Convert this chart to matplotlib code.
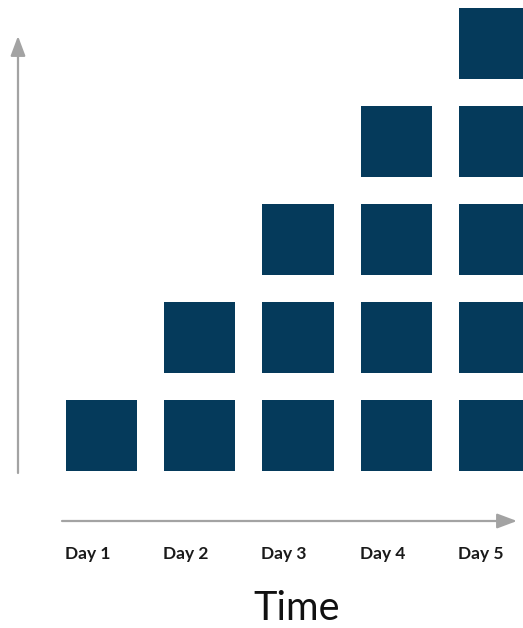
import matplotlib
matplotlib.use("Agg")
import matplotlib.pyplot as plt

days = ["Day 1", "Day 2", "Day 3", "Day 4", "Day 5"]
counts = [1, 2, 3, 4, 5]
axis_label = "Time"

W, H = 523, 628
fig = plt.figure(figsize=(W / 100, H / 100), dpi=100)
ax = fig.add_axes([0, 0, 1, 1])
ax.set_xlim(-0.033, 5.290)
ax.set_ylim(-1.464, 4.944)
ax.axis("off")

sq_color = "#053a5b"
size_x = 71 / 98.25
size_y = 71 / 98
for i, (d, c) in enumerate(zip(days, counts)):
    xc = i + 1
    ax.bar([xc] * c, [size_y] * c, width=size_x,
           bottom=[k + 0.5 - size_y / 2 for k in range(c)],
           color=sq_color, edgecolor="none")
    ax.text(xc - 0.14, 1 - 554 / H, d, transform=ax.get_xaxis_transform(),
            ha="center", va="center", fontsize=12.5, family="Lato",
            fontweight="bold", color="#1a1a1a")

ax.text(297 / W, 1 - 609 / H, axis_label, transform=fig.transFigure,
        ha="center", va="center", fontsize=28.5, family="Lato", color="#111111")

arrow_color = "#a3a3a3"
ax.annotate("", xy=(18 / W, 1 - 36 / H), xytext=(18 / W, 1 - 473 / H),
            xycoords="figure fraction", textcoords="figure fraction",
            arrowprops=dict(arrowstyle="-|>,head_length=1.2,head_width=0.45",
                            color=arrow_color, lw=1.6, shrinkA=0, shrinkB=0))
ax.annotate("", xy=(517 / W, 1 - 521 / H), xytext=(62 / W, 1 - 521 / H),
            xycoords="figure fraction", textcoords="figure fraction",
            arrowprops=dict(arrowstyle="-|>,head_length=1.2,head_width=0.45",
                            color=arrow_color, lw=1.6, shrinkA=0, shrinkB=0))

fig.savefig("out.png", dpi=100, facecolor="white")
